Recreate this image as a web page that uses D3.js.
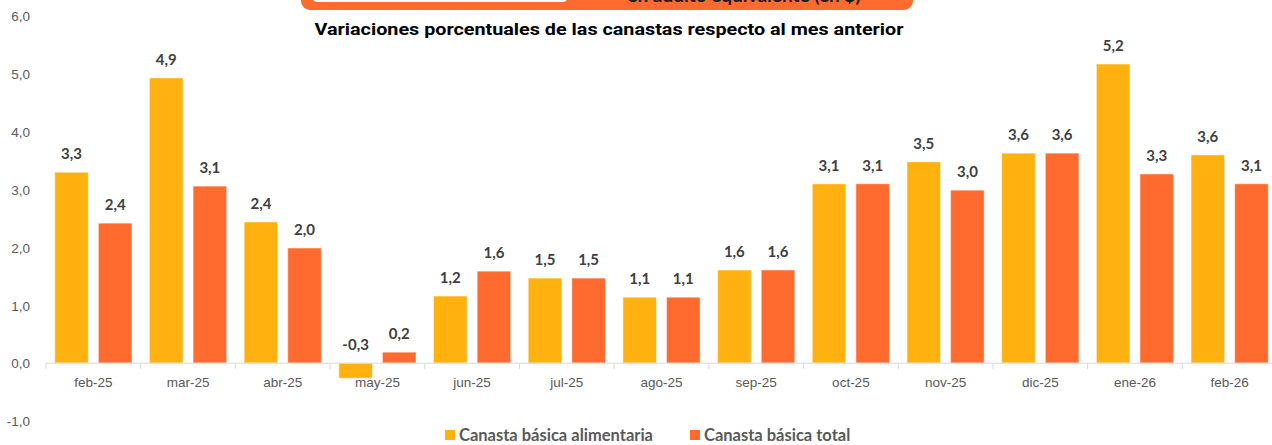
<!DOCTYPE html>
<html lang="es">
<head>
    <meta charset="UTF-8">
    <title>Variaciones porcentuales de las canastas</title>
    <script src="https://d3js.org/d3.v7.min.js" charset="utf-8"></script>
    <style type="text/css">
        body {
            margin: 0;
            background: #fff;
            font-family: Lato, "Open Sans", sans-serif;
        }

        .yAxis text,
        .xAxis text {
            fill: #595959;
            font-size: 13.5px;
        }
    </style>
</head>
<body>
    <script type="text/javascript">
        const w = 1272,
            h = 445;

        // datos
        const meses = ["feb-25", "mar-25", "abr-25", "may-25", "jun-25", "jul-25", "ago-25",
            "sep-25", "oct-25", "nov-25", "dic-25", "ene-26", "feb-26"];
        const alimentaria = [3.30, 4.93, 2.44, -0.26, 1.16, 1.47, 1.14, 1.61, 3.10, 3.48, 3.63, 5.17, 3.60];
        const total = [2.42, 3.06, 1.99, 0.19, 1.59, 1.47, 1.14, 1.61, 3.10, 2.99, 3.63, 3.27, 3.10];
        const series = ["Canasta básica alimentaria", "Canasta básica total"];
        const colores = ["#FFB10F", "#FF6A2F"];
        const yTicks = [-1, 0, 1, 2, 3, 4, 5, 6];

        const svg = d3.select("body").append("svg").attr("width", w).attr("height", h);

        const x = d3.scaleBand()
            .domain(meses)
            .range([46, 1277])
            .padding(0);

        const xInner = d3.scaleBand()
            .domain(series)
            .range([0, x.bandwidth()])
            .paddingInner(0.23)
            .paddingOuter(0.2);

        const y = d3.scaleLinear()
            .domain([-1, 6])
            .range([421, 16]);

        const fmt = d => d3.format(".1f")(d).replace(".", ",").replace("−", "-");

        // eje Y (solo etiquetas)
        const yAxis = d3.axisLeft(y)
            .tickValues(yTicks)
            .tickSize(0)
            .tickPadding(0)
            .tickFormat(fmt);

        svg.append("g")
            .attr("class", "yAxis")
            .attr("transform", "translate(30,0)")
            .call(yAxis)
            .call(g => g.select(".domain").remove())
            .selectAll("text")
            .attr("dy", "0.35em");

        // recuadro naranja cortado arriba
        svg.append("rect")
            .attr("x", 301).attr("y", -40)
            .attr("width", 612).attr("height", 50)
            .attr("rx", 9)
            .attr("fill", "#FF6A2F");
        svg.append("rect")
            .attr("x", 313).attr("y", -30)
            .attr("width", 254).attr("height", 32)
            .attr("rx", 4)
            .attr("fill", "#fff");
        svg.append("text")
            .attr("x", 744).attr("y", 2)
            .attr("text-anchor", "middle")
            .attr("font-size", 19)
            .attr("font-weight", "bold")
            .attr("fill", "#1a1a1a")
            .text("en adulto equivalente (en $)");

        // titulo
        svg.append("text")
            .attr("x", 609).attr("y", 35)
            .attr("text-anchor", "middle")
            .attr("font-family", "Roboto, sans-serif")
            .attr("font-size", 17)
            .attr("font-weight", "bold")
            .attr("fill", "#000")
            .attr("textLength", 589)
            .attr("lengthAdjust", "spacingAndGlyphs")
            .text("Variaciones porcentuales de las canastas respecto al mes anterior");

        // barras
        const filas = meses.map((m, i) => ({
            mes: m,
            valores: [alimentaria[i], total[i]]
        }));

        const grupos = svg.selectAll(".grupo")
            .data(filas)
            .enter()
            .append("g")
            .attr("class", "grupo")
            .attr("transform", d => `translate(${x(d.mes)},0)`);

        grupos.selectAll("rect")
            .data(d => d.valores.map((v, j) => ({ serie: series[j], v: v, j: j })))
            .enter()
            .append("rect")
            .attr("x", d => xInner(d.serie))
            .attr("y", d => y(Math.max(d.v, 0)))
            .attr("width", xInner.bandwidth())
            .attr("height", d => Math.abs(y(d.v) - y(0)))
            .attr("fill", d => colores[d.j])
            .attr("stroke", "#ffffff")
            .attr("stroke-opacity", 0.5)
            .attr("stroke-width", 1);

        grupos.selectAll(".etq")
            .data(d => d.valores.map((v, j) => ({ serie: series[j], v: v, j: j })))
            .enter()
            .append("text")
            .attr("class", "etq")
            .attr("x", d => xInner(d.serie) + xInner.bandwidth() / 2)
            .attr("y", d => y(Math.max(d.v, 0)) - 13)
            .attr("text-anchor", "middle")
            .attr("font-size", 15)
            .attr("font-weight", "bold")
            .attr("fill", "#404040")
            .text(d => fmt(d.v));

        // eje X
        const xAxis = d3.axisBottom(x)
            .tickSize(0)
            .tickPadding(14);

        svg.append("g")
            .attr("class", "xAxis")
            .attr("transform", `translate(0,${y(0)})`)
            .call(xAxis)
            .call(g => g.select(".domain").remove());

        svg.append("line")
            .attr("x1", x.range()[0]).attr("x2", x.range()[1])
            .attr("y1", y(0)).attr("y2", y(0))
            .attr("stroke", "#d9d9d9")
            .attr("stroke-width", 1);

        const bordes = meses.map(m => x(m)).concat([x.range()[1]]);
        svg.selectAll(".tickBorde")
            .data(bordes)
            .enter()
            .append("line")
            .attr("class", "tickBorde")
            .attr("x1", d => d).attr("x2", d => d)
            .attr("y1", y(0)).attr("y2", y(0) + 6)
            .attr("stroke", "#d9d9d9");

        // leyenda
        const leyX = [445, 690];
        const ley = svg.selectAll(".ley")
            .data(series)
            .enter()
            .append("g")
            .attr("class", "ley")
            .attr("transform", (d, i) => `translate(${leyX[i]},430)`);

        ley.append("rect")
            .attr("width", 10).attr("height", 10)
            .attr("fill", (d, i) => colores[i]);

        ley.append("text")
            .attr("x", 14).attr("y", 11)
            .attr("font-size", 16.5)
            .attr("font-weight", "bold")
            .attr("fill", "#595959")
            .text(d => d);
    </script>
</body>
</html>
